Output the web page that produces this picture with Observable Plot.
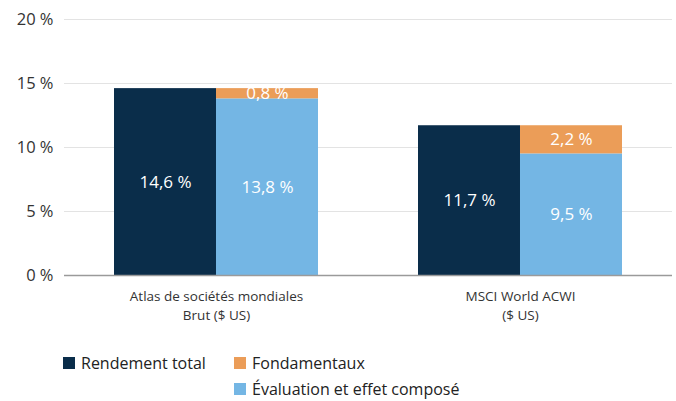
<!DOCTYPE html>
<html>
<head>
<meta charset="utf-8">
<script src="https://cdn.jsdelivr.net/npm/d3@7"></script>
<script src="https://cdn.jsdelivr.net/npm/@observablehq/plot@0.6"></script>
<style>
  body { margin: 0; background: #fff; font-family: "Open Sans", sans-serif; }
  #chart { width: 676px; }
  .legend { position: relative; height: 70px; font-size: 16px; color: #222; }
  .item { position: absolute; display: flex; align-items: center; white-space: nowrap; }
  .sw { width: 12px; height: 12px; margin-right: 6px; }
</style>
</head>
<body>
<div id="chart"></div>
<script>
const groups = ["Atlas de sociétés mondiales\nBrut ($ US)", "MSCI World ACWI\n($ US)"];
const series = ["Rendement total", "Fondamentaux", "Évaluation et effet composé"];
const colors = ["#0a2d4a", "#eb9d58", "#74b6e4"];
const rendementTotal = [14.6, 11.7];
const evaluation = [13.8, 9.5];
const fondamentaux = [0.8, 2.2];
const yTicks = [0, 5, 10, 15, 20];

const totalRows = groups.map((g, i) => ({group: g, series: series[0], value: rendementTotal[i]}));
const decompRows = [];
groups.forEach((g, i) => {
  decompRows.push({group: g, series: series[2], value: evaluation[i]});
  decompRows.push({group: g, series: series[1], value: fondamentaux[i]});
});
const fmt = v => v.toFixed(1).replace(".", ",") + " %";

const W = 676, ML = 64, MR = 4;
const pIn = 0.329, pOut = 0.1645;
const step = (W - ML - MR) / (groups.length - pIn + 2 * pOut);
const half = step * (1 - pIn) / 2;

const plot = Plot.plot({
  width: W,
  height: 331,
  marginTop: 19,
  marginBottom: 56,
  marginLeft: ML,
  marginRight: MR,
  style: {fontFamily: "'Open Sans', sans-serif", color: "#333", background: "#fff"},
  x: {domain: groups, paddingInner: pIn, paddingOuter: pOut, label: null},
  y: {domain: [0, 20], label: null},
  color: {domain: series, range: colors},
  marks: [
    Plot.ruleY(yTicks.slice(1), {stroke: "#e3e3e3", strokeWidth: 1}),
    Plot.barY(totalRows, {x: "group", y: "value", fill: "series", insetRight: half}),
    Plot.barY(decompRows, Plot.stackY({x: "group", y: "value", fill: "series", order: null, insetLeft: half})),
    Plot.text(totalRows, {x: "group", y: d => d.value / 2, text: d => fmt(d.value), dx: -half / 2, fill: "white", fontSize: 17, fontWeight: 500}),
    Plot.text(decompRows, Plot.stackY({x: "group", y: "value", order: null, text: d => fmt(d.value), dx: half / 2, fill: "white", fontSize: 17, fontWeight: 500})),
    Plot.ruleY([0], {stroke: "#9a9a9a", strokeWidth: 1.5}),
    Plot.axisY(yTicks, {tickSize: 0, tickPadding: 11, fontSize: 16.5, tickFormat: d => d + " %", fill: "#333", label: null}),
    Plot.axisX({tickSize: 0, tickPadding: 12, fontSize: 13.5, lineHeight: 1.4, fill: "#333", label: null})
  ]
});
document.getElementById("chart").appendChild(plot);

const legend = document.createElement("div");
legend.className = "legend";
const pos = [[63, 32], [234, 32], [234, 58]];
series.forEach((s, i) => {
  const it = document.createElement("div");
  it.className = "item";
  it.style.left = pos[i][0] + "px";
  it.style.top = (pos[i][1] - 11) + "px";
  it.style.height = "22px";
  const sw = document.createElement("div");
  sw.className = "sw";
  sw.style.background = colors[i];
  const t = document.createElement("span");
  t.textContent = s;
  it.appendChild(sw);
  it.appendChild(t);
  legend.appendChild(it);
});
document.getElementById("chart").appendChild(legend);
</script>
</body>
</html>
